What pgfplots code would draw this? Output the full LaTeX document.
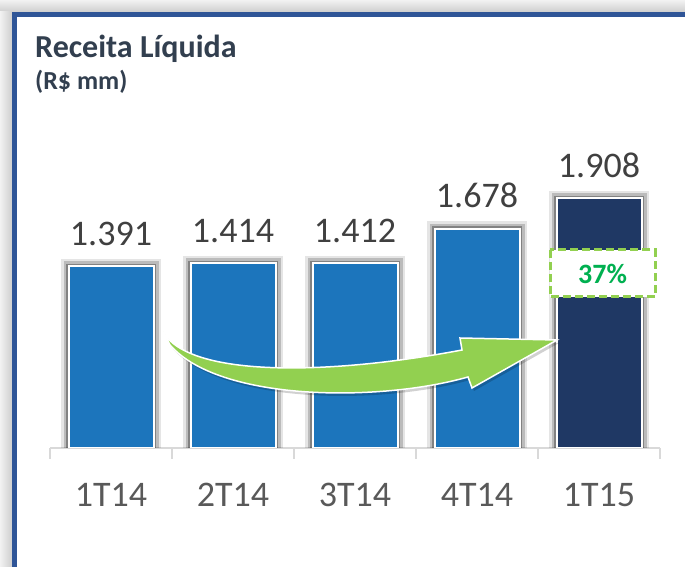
\documentclass[border=0pt]{standalone}
\usepackage{pgfplots}
\pgfplotsset{compat=1.18}
\usepackage{fontspec}
\setmainfont{Carlito}
\definecolor{barblue}{HTML}{1C75BC}
\definecolor{bardark}{HTML}{1F3864}
\definecolor{framebl}{HTML}{2F5597}
\definecolor{titlec}{HTML}{323F4F}
\definecolor{valc}{HTML}{404040}
\definecolor{tickc}{HTML}{595959}
\definecolor{axc}{HTML}{D9D9D9}
\definecolor{arrg}{HTML}{92D050}
\definecolor{pctg}{HTML}{00B050}
\begin{document}
\begin{tikzpicture}[x=1pt,y=1pt]
\path[use as bounding box] (0,0) rectangle (685,567);
\fill[white] (0,0) rectangle (685,567);
% frame shadow
\shade[top color=gray!10, bottom color=gray!38] (0,555) rectangle (685,567);
\shade[left color=gray!10, right color=gray!38] (0,0) rectangle (12,555);
\fill[framebl] (12,550) rectangle (685,555);
\fill[framebl] (12,0) rectangle (16.5,555);
% titles
\node[anchor=base west, font=\fontsize{32}{32}\selectfont\bfseries, text=titlec, inner sep=0] at (35,509) {Receita Líquida};
\node[anchor=base west, font=\fontsize{26}{26}\selectfont\bfseries, text=titlec, inner sep=0] at (35,477) {(R\$ mm)};
\coordinate (AX) at (50pt,119pt);
\begin{axis}[at={(AX)}, anchor=south west, scale only axis,
  width=610pt, height=340pt,
  xmin=-0.5, xmax=4.5, ymin=0, ymax=2.6,
  axis y line=none, axis x line*=bottom,
  x axis line style={draw=axc, line width=1.2pt},
  xtick={0,...,4}, xticklabels={1T14,2T14,3T14,4T14,1T15},
  major tick length=0pt,
  minor xtick={-0.5,0.5,1.5,2.5,3.5,4.5}, minor tick length=11pt,
  tick align=outside, tick style={draw=axc, line width=1.2pt},
  xticklabel style={font=\fontsize{36}{36}\selectfont, text=tickc, anchor=base, yshift=-59pt},
  ybar, bar width=85pt,
  nodes near coords, point meta=explicit symbolic,
  nodes near coords style={font=\fontsize{36}{36}\selectfont, text=valc, anchor=base, yshift=21pt},
  ]
\addplot[fill=barblue, draw=white, line width=2pt, bar shift=0pt,
  preaction={draw=black, opacity=0.10, line width=15pt},
  preaction={draw=black, opacity=0.18, line width=10pt},
  preaction={draw=black, opacity=0.30, line width=5pt}]
  coordinates {(0,1.391) [1.391] (1,1.414) [1.414] (2,1.412) [1.412] (3,1.678) [1.678]};
\addplot[fill=bardark, draw=white, line width=2pt, bar shift=0pt,
  preaction={draw=black, opacity=0.10, line width=15pt},
  preaction={draw=black, opacity=0.18, line width=10pt},
  preaction={draw=black, opacity=0.30, line width=5pt}]
  coordinates {(4,1.908) [1.908]};
\end{axis}
\begin{scope}[shift={(0,567)}, y=-1pt]
\fill[black, opacity=0.18] ([shift={(2,3)}]163,332) .. controls ([shift={(2,3)}]190,378) and ([shift={(2,3)}]330,375) .. ([shift={(2,3)}]462,350) -- ([shift={(2,3)}]460,338) -- ([shift={(2,3)}]557,340) -- ([shift={(2,3)}]472,388) -- ([shift={(2,3)}]468,377) .. controls ([shift={(2,3)}]380,402) and ([shift={(2,3)}]220,402) .. ([shift={(2,3)}]170,345) -- cycle;
\filldraw[fill=arrg, draw=white, line width=1.5pt, line join=miter] (163,332) .. controls (190,378) and (330,375) .. (462,350) -- (460,338) -- (557,340) -- (472,388) -- (468,377) .. controls (380,402) and (220,402) .. (170,345) -- cycle;
\draw[fill=white, draw=arrg, line width=3pt, dash pattern=on 8pt off 4pt] (550,250) rectangle (655,297);
\node[font=\fontsize{28}{28}\selectfont\bfseries, text=pctg] at (602.5,273.5) {37\%};
\end{scope}
\end{tikzpicture}
\end{document}
